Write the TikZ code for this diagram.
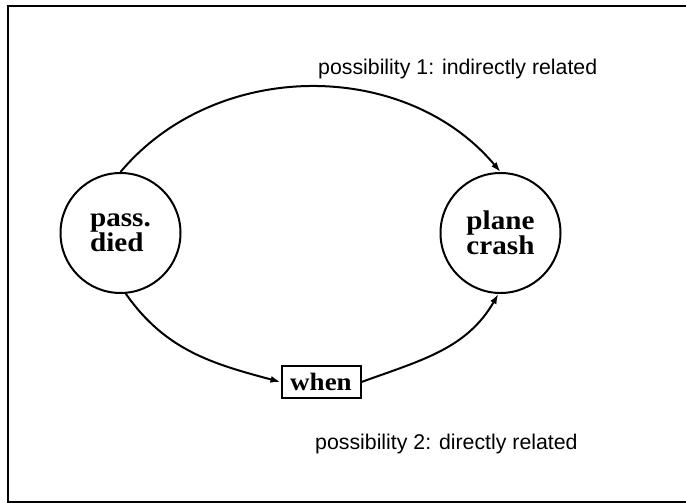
\documentclass[tikz,border=0pt]{standalone}
\usepackage{fontspec}
\setmainfont{Liberation Serif}
\setsansfont{Liberation Sans}
\newfontfamily\nodeserif[FakeStretch=1.08]{Liberation Serif}
\usetikzlibrary{arrows.meta}
\begin{document}
\begin{tikzpicture}[x=1pt,y=1pt,
  state/.style={circle,draw,line width=2pt,minimum size=120pt,inner sep=0pt,align=left,
    font=\nodeserif\bfseries\fontsize{27}{23}\selectfont},
  box/.style={rectangle,draw,line width=2pt,minimum width=79pt,minimum height=32pt,inner sep=0pt,
    font=\nodeserif\bfseries\fontsize{25}{23}\selectfont},
  conn/.style={line width=2pt,-{Latex[length=10pt,width=7pt]}},
  lbl/.style={font=\sffamily\fontsize{21.3}{25}\selectfont,anchor=base west,inner sep=0pt},
  frame/.style={line width=2pt}]
\useasboundingbox (0,0) rectangle (686,503);
\begin{scope}
  \clip (0,0) rectangle (686,503);
  \draw[frame] (8,1) rectangle (700,497);
\end{scope}
\node[state] (pd) at (120.5,270) {pass.\\died};
\node[state] (pc) at (500.5,270) {plane\\crash};
\node[box] (when) at (321,121) {when};
\node[lbl] (l1) at (318,428) {possibility 1: indirectly related};
\node[lbl] (l2) at (315,53) {possibility 2: directly related};
\draw[conn] (pd.north) to[out=50,in=130] (pc.north);
\draw[conn] (pd.-85) to[out=-55,in=165] (when.west);
\draw[conn] (when.east) to[out=20,in=-120] (pc.-92);
\end{tikzpicture}
\end{document}
